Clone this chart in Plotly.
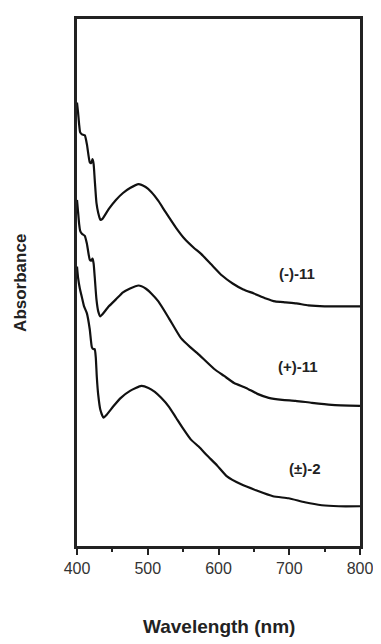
import plotly.graph_objects as go

# Wavelength (nm) and absorbance (arbitrary, offset traces)
wl_m11 = [400, 401.5, 403, 404.5, 407, 411, 414, 418, 420, 422, 423.5, 425, 427.5, 430, 433, 436,
          445, 455, 465, 475, 487, 497, 505, 515, 525, 540, 552, 565, 575, 590, 605, 620,
          635, 650, 667, 680, 695, 710, 727, 750, 775, 800]
ab_m11 = [4.46, 4.36, 4.24, 4.16, 4.14, 4.13, 4.04, 3.86, 3.85, 3.89, 3.84, 3.69, 3.45, 3.35, 3.28, 3.29,
          3.39, 3.48, 3.55, 3.60, 3.64, 3.61, 3.56, 3.47, 3.36, 3.20, 3.09, 3.00, 2.94, 2.83, 2.72, 2.64,
          2.58, 2.54, 2.49, 2.46, 2.45, 2.44, 2.42, 2.41, 2.41, 2.41]

wl_p11 = [400, 401.5, 403, 404.5, 407, 411, 414, 418, 420, 422, 423.5, 425, 427.5, 430, 433, 436,
          445, 455, 465, 475, 487, 497, 505, 515, 530, 547, 560, 570, 594, 608, 622, 639,
          655, 671, 690, 709, 732, 760, 800]
ab_p11 = [3.48, 3.36, 3.24, 3.17, 3.14, 3.12, 3.04, 2.88, 2.87, 2.89, 2.84, 2.71, 2.48, 2.36, 2.31, 2.33,
          2.41, 2.48, 2.55, 2.59, 2.62, 2.59, 2.54, 2.46, 2.29, 2.09, 2.00, 1.94, 1.78, 1.71, 1.64, 1.59,
          1.53, 1.49, 1.47, 1.46, 1.44, 1.42, 1.41]

wl_pm2 = [400, 401.5, 404, 407, 410, 414, 418, 421, 423, 425, 426.5, 428, 430, 433, 437.5, 442,
          452, 462, 475, 491, 501, 510, 519, 530, 540, 550, 561, 572, 584, 598, 612, 632,
          653, 677, 699, 722, 746, 770, 800]
ab_pm2 = [2.81, 2.70, 2.59, 2.50, 2.41, 2.34, 2.18, 2.00, 1.98, 1.98, 1.90, 1.70, 1.52, 1.37, 1.29, 1.32,
          1.41, 1.49, 1.56, 1.61, 1.59, 1.55, 1.49, 1.40, 1.29, 1.18, 1.07, 1.00, 0.91, 0.81, 0.70, 0.62,
          0.56, 0.50, 0.48, 0.44, 0.41, 0.40, 0.40]

labels = ["(-)-11", "(+)-11", "(±)-2"]
label_x = [711, 713, 722]
label_y = [2.74, 1.81, 0.78]

x_ticks = [400, 500, 600, 700, 800]

fig = go.Figure()
for wl, ab in [(wl_m11, ab_m11), (wl_p11, ab_p11), (wl_pm2, ab_pm2)]:
    fig.add_trace(go.Scatter(x=wl, y=ab, mode="lines",
                             line=dict(color="#111111", width=2.2, shape="spline", smoothing=0.5),
                             showlegend=False, hoverinfo="skip"))

for t, xx, yy in zip(labels, label_x, label_y):
    fig.add_annotation(x=xx, y=yy, text="<b>%s</b>" % t, showarrow=False,
                       font=dict(family="Liberation Sans, Arial", size=15, color="#222222"))

fig.add_annotation(xref="paper", yref="paper", x=0.5, y=-0.153, text="<b>Wavelength (nm)</b>",
                   showarrow=False, xanchor="center", yanchor="middle",
                   font=dict(family="Liberation Sans, Arial", size=19, color="#222222"))
fig.add_annotation(xref="paper", yref="paper", x=-0.2, y=0.5, text="<b>Absorbance</b>",
                   showarrow=False, textangle=-90, xanchor="center", yanchor="middle",
                   font=dict(family="Liberation Sans, Arial", size=17, color="#222222"))

fig.update_layout(
    width=373, height=636,
    margin=dict(l=69, r=15, t=8, b=98),
    paper_bgcolor="white", plot_bgcolor="white",
    font=dict(family="Liberation Sans, Arial", color="#333333"),
)
fig.update_xaxes(range=[400, 800], tickvals=x_ticks, ticktext=[str(v) for v in x_ticks],
                 showgrid=False, zeroline=False, showline=True, linecolor="#222222", linewidth=2.5,
                 mirror=True, ticks="outside", ticklen=6, tickwidth=2, tickcolor="#222222",
                 tickfont=dict(size=16, color="#333333"),
                 minor=dict(tickvals=[450, 550, 650, 750], ticks="outside", ticklen=3, tickwidth=1.5,
                            tickcolor="#222222"))
fig.update_yaxes(range=[0, 5.3], showgrid=False, zeroline=False, showline=True, linecolor="#222222",
                 linewidth=2.5, mirror=True, showticklabels=False, ticks="")

fig.write_html("out.html")
